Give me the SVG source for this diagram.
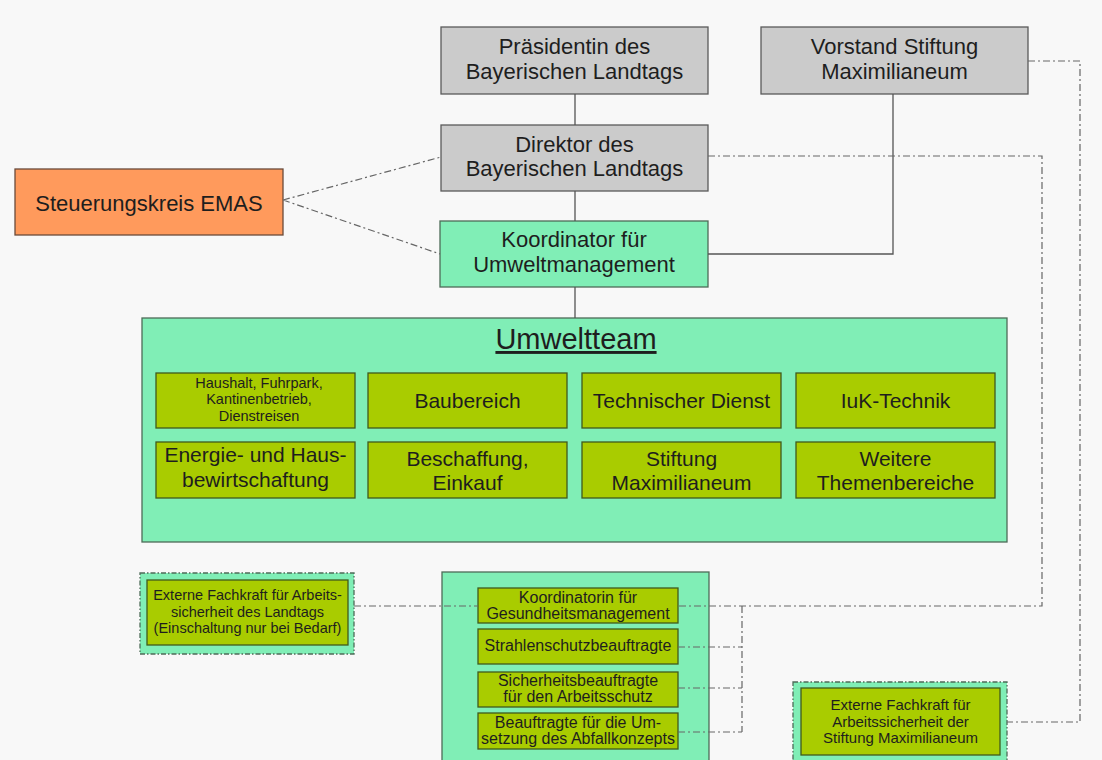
<svg xmlns="http://www.w3.org/2000/svg" width="1102" height="760" viewBox="0 0 1102 760">
<style>
text{font-family:"Liberation Sans",Arial,sans-serif;text-anchor:middle;fill:#1e1e1e}
.gray{fill:#cbcbcb;stroke:#5a5a5a;stroke-width:1.3}
.mint{fill:#80eeb6;stroke:#4d6b58;stroke-width:1.3}
.olive{fill:#a9cc00;stroke:#3f5a1c;stroke-width:1.3}
.orange{fill:#ff9a5c;stroke:#6a4a3a;stroke-width:1.3}
.mintdash{fill:#80eeb6;stroke:#4d6b58;stroke-width:1.3;stroke-dasharray:5 2 1.5 2}
.t22{font-size:22px}
.t21{font-size:21px}
.t16{font-size:16px}
.t15{font-size:15px}
.t14{font-size:14.5px}
.solid{fill:none;stroke:#555;stroke-width:1.3}
.dash{fill:none;stroke:#666;stroke-width:1.2;stroke-dasharray:7 3 2 3}
</style>
<rect x="0" y="0" width="1102" height="760" fill="#f8f8f8"/>

<g id="praesidentin">
<rect class="gray" x="441" y="27" width="267" height="67"/>
<text class="t22" x="574.5" y="54">Präsidentin des</text>
<text class="t22" x="574.5" y="79">Bayerischen Landtags</text>
</g>
<g id="vorstand">
<rect class="gray" x="761" y="27" width="267" height="67"/>
<text class="t22" x="894.5" y="54">Vorstand Stiftung</text>
<text class="t22" x="894.5" y="79">Maximilianeum</text>
</g>
<g id="direktor">
<rect class="gray" x="441" y="125" width="267" height="66"/>
<text class="t22" x="574.5" y="152">Direktor des</text>
<text class="t22" x="574.5" y="176">Bayerischen Landtags</text>
</g>
<g id="koordinator">
<rect class="mint" x="440" y="221" width="268" height="66"/>
<text class="t22" x="574" y="247">Koordinator für</text>
<text class="t22" x="574" y="272">Umweltmanagement</text>
</g>
<g id="emas">
<rect class="orange" x="15" y="169" width="268" height="66"/>
<text class="t22" x="149" y="211">Steuerungskreis EMAS</text>
</g>

<g id="umweltteam">
<rect class="mint" x="142" y="318" width="865" height="224"/>
<text x="576" y="349" style="font-size:29px;text-decoration:underline">Umweltteam</text>
</g>
<g id="haushalt">
<rect class="olive" x="156" y="373" width="199" height="55"/>
<text class="t14" x="259" y="388">Haushalt, Fuhrpark,</text>
<text class="t14" x="259" y="404">Kantinenbetrieb,</text>
<text class="t14" x="259" y="421">Dienstreisen</text>
</g>
<g id="baubereich">
<rect class="olive" x="368" y="373" width="199" height="55"/>
<text class="t21" x="467.5" y="408">Baubereich</text>
</g>
<g id="technischer">
<rect class="olive" x="582" y="373" width="199" height="55"/>
<text class="t21" x="681.5" y="408">Technischer Dienst</text>
</g>
<g id="iuk">
<rect class="olive" x="796" y="373" width="199" height="55"/>
<text class="t21" x="895.5" y="408">IuK-Technik</text>
</g>
<g id="energie">
<rect class="olive" x="156" y="442" width="199" height="56"/>
<text class="t21" x="255.5" y="462">Energie- und Haus-</text>
<text class="t21" x="255.5" y="487">bewirtschaftung</text>
</g>
<g id="beschaffung">
<rect class="olive" x="368" y="442" width="199" height="56"/>
<text class="t21" x="467.5" y="466">Beschaffung,</text>
<text class="t21" x="467.5" y="490">Einkauf</text>
</g>
<g id="stiftung">
<rect class="olive" x="582" y="442" width="199" height="56"/>
<text class="t21" x="681.5" y="466">Stiftung</text>
<text class="t21" x="681.5" y="490">Maximilianeum</text>
</g>
<g id="weitere">
<rect class="olive" x="796" y="442" width="199" height="56"/>
<text class="t21" x="895.5" y="466">Weitere</text>
<text class="t21" x="895.5" y="490">Themenbereiche</text>
</g>

<g id="extern-landtag">
<rect class="mintdash" x="140" y="573" width="214" height="81"/>
<rect class="olive" x="147" y="580" width="201" height="65"/>
<text class="t14" x="247.5" y="600">Externe Fachkraft für Arbeits-</text>
<text class="t14" x="247.5" y="617">sicherheit des Landtags</text>
<text class="t14" x="247.5" y="633">(Einschaltung nur bei Bedarf)</text>
</g>

<g id="gesundheit-gruppe">
<rect class="mint" x="442" y="572" width="267" height="200"/>
</g>
<g id="koordinatorin">
<rect class="olive" x="478" y="588" width="200" height="35"/>
<text class="t16" x="578" y="603">Koordinatorin für</text>
<text class="t16" x="578" y="619">Gesundheitsmanagement</text>
</g>
<g id="strahlenschutz">
<rect class="olive" x="478" y="629" width="200" height="35"/>
<text class="t16" x="578" y="651">Strahlenschutzbeauftragte</text>
</g>
<g id="sicherheit">
<rect class="olive" x="478" y="672" width="200" height="35"/>
<text class="t16" x="578" y="686">Sicherheitsbeauftragte</text>
<text class="t16" x="578" y="702">für den Arbeitsschutz</text>
</g>
<g id="abfall">
<rect class="olive" x="478" y="713" width="200" height="36"/>
<text class="t16" x="578" y="728">Beauftragte für die Um-</text>
<text class="t16" x="578" y="744">setzung des Abfallkonzepts</text>
</g>

<g id="extern-stiftung">
<rect class="mintdash" x="793" y="682" width="214" height="82"/>
<rect class="olive" x="801" y="688" width="199" height="67"/>
<text class="t15" x="900.5" y="710">Externe Fachkraft für</text>
<text class="t15" x="900.5" y="727">Arbeitssicherheit der</text>
<text class="t15" x="900.5" y="743">Stiftung Maximilianeum</text>
</g>

<g id="connectors">
<path class="solid" d="M575,94V125M575,191V221M575,287V318M708,254H893V94"/>
<path class="dash" d="M283,200L441,157M283,200L440,254"/>
<path class="dash" d="M708,156H1042V606H678"/>
<path class="dash" d="M354,606H478"/>
<path class="dash" d="M678,647H742M678,688H742M678,732H742M742,606V732"/>
<path class="dash" d="M1028,61H1080V722H1007"/>
</g>
</svg>
